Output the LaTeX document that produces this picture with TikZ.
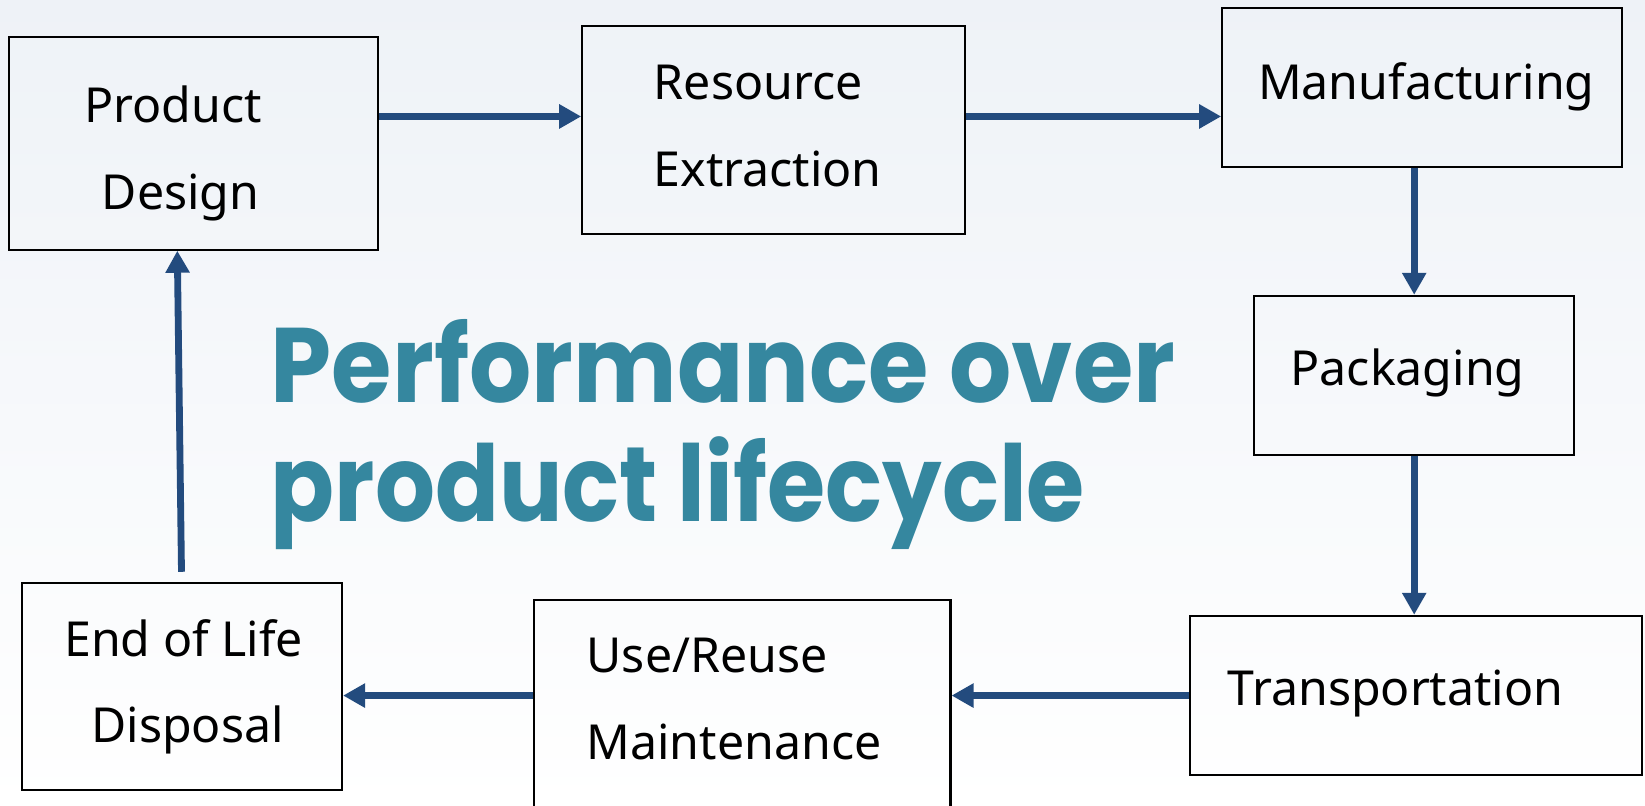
\documentclass[tikz,border=0pt]{standalone}
\usepackage{graphicx}
\usepackage{fontspec}
\setmainfont{Noto Sans}
\newfontfamily\titlefont{Poppins}
\usetikzlibrary{arrows.meta}
\definecolor{arrowblue}{HTML}{234B7E}
\definecolor{titleblue}{HTML}{35879F}
\definecolor{bgtop}{HTML}{EEF2F7}
\definecolor{bgmid}{HTML}{F6F8FB}
\tikzset{
  stagebox/.style={draw=black, line width=2pt, rectangle, inner sep=0pt},
  boxtext/.style={anchor=base west, inner sep=0pt, font=\fontsize{46}{46}\selectfont},
  titletext/.style={anchor=base west, inner sep=0pt, text=titleblue, font=\titlefont\bfseries\fontsize{101}{101}\selectfont},
  flow/.style={draw=arrowblue, line width=6.5pt, -{Triangle[length=21pt,width=22pt]}}
}
\begin{document}
\begin{tikzpicture}[x=1pt,y=-1pt]
\useasboundingbox (0,0) rectangle (1568,768);
\fill[top color=bgtop, middle color=bgmid, bottom color=white] (-2,-2) rectangle (1570,770);

% boxes
\node[stagebox, minimum width=351pt, minimum height=203pt] (pd) at (184.5,136.5) {};
\node[stagebox, minimum width=365pt, minimum height=198pt] (re) at (737.5,124) {};
\node[stagebox, minimum width=381pt, minimum height=151pt] (mf) at (1355.5,83.5) {};
\node[stagebox, minimum width=305pt, minimum height=152pt] (pk) at (1347.5,358) {};
\node[stagebox, minimum width=431pt, minimum height=152pt] (tr) at (1349.5,663) {};
\node[stagebox, minimum width=397pt, minimum height=220pt] (ur) at (707.5,682) {};
\node[stagebox, minimum width=305pt, minimum height=197pt] (eol) at (173.5,654.5) {};

% texts
\node[boxtext] (t1) at (80,117) {Product};
\node[boxtext] (t2) at (97,200) {Design};
\node[boxtext] (t3) at (623,95) {Resource};
\node[boxtext] (t4) at (623,178) {Extraction};
\node[boxtext] (t5) at (1199,95) {Manufacturing};
\node[boxtext] (t6) at (1230,367) {Packaging};
\node[boxtext] (t7) at (1170,672) {Transportation};
\node[boxtext] (t8) at (559,641) {Use/Reuse};
\node[boxtext] (t9) at (559,724) {Maintenance};
\node[boxtext] (t10) at (61,626) {End of Life};
\node[boxtext] (t11) at (87,708) {Disposal};

% title
\node[titletext] (ti1) at (258,384) {\resizebox{862pt}{\height}{Performance over}};
\node[titletext] (ti2) at (258,497) {\resizebox{776pt}{\height}{product lifecycle}};

% connectors
\coordinate (rowtop) at (0,111);
\coordinate (colright) at (1348,0);
\coordinate (rowbot) at (0,663);
\coordinate (eolstart) at (173,545);
\draw[flow] (pd.east |- rowtop) -- (re.west |- rowtop);
\draw[flow] (re.east |- rowtop) -- (mf.west |- rowtop);
\draw[flow] (mf.south -| colright) -- (pk.north -| colright);
\draw[flow] (pk.south -| colright) -- (tr.north -| colright);
\draw[flow] (tr.west |- rowbot) -- (ur.east |- rowbot);
\draw[flow] (ur.west |- rowbot) -- (eol.east |- rowbot);
\draw[flow] (eolstart) -- ([xshift=-15.5pt]pd.south);
\end{tikzpicture}
\end{document}
